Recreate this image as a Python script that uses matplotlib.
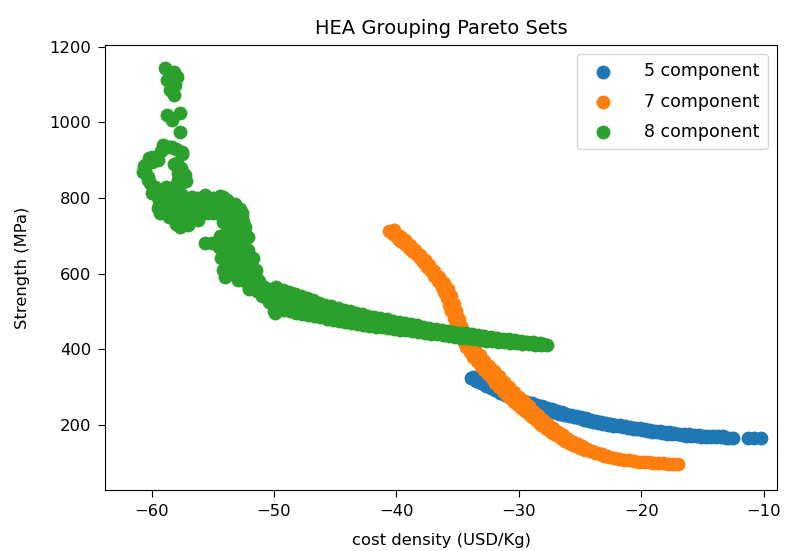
import matplotlib
matplotlib.use("Agg")
import matplotlib.pyplot as plt

# 5 component pareto set (cost density, strength)
cost_5 = [-33.9, -33.5, -33.1, -32.7, -32.3, -31.9, -31.5, -31.1, -30.7, -30.3,
          -29.9, -29.5, -29.1, -28.7, -28.3, -27.9, -27.5, -27.1, -26.7, -26.3,
          -25.9, -25.5, -25.1, -24.7, -24.3, -23.9, -23.5, -23.1, -22.7, -22.3,
          -21.9, -21.5, -21.1, -20.7, -20.3, -19.9, -19.5, -19.1, -18.7, -18.3,
          -17.9, -17.5, -17.1, -16.7, -16.3, -15.9, -15.5, -15.1, -14.7, -14.3,
          -13.9, -13.5, -13.1, -12.8, -12.5, -11.3, -10.8, -10.2,
          -33.7, -33.3, -32.9, -32.5, -32.1, -31.7, -31.3, -30.9, -30.5, -30.1,
          -29.7, -29.3, -28.9, -28.5, -28.1, -27.7, -27.3, -26.9, -26.5, -26.1,
          -25.7, -25.3, -24.9, -24.5, -24.1, -23.7, -23.3, -22.9, -22.5, -22.1,
          -21.7, -21.3, -20.9, -20.5, -20.1, -19.7, -19.3, -18.9, -18.5, -18.1,
          -17.7, -17.3, -16.9, -16.5, -16.1, -15.7, -15.3, -14.9, -14.5, -14.1,
          -13.7, -13.3]
strength_5 = [325, 317, 311, 304, 298, 291, 285, 278, 273, 267,
              262, 258, 254, 250, 246, 242, 238, 234, 230, 227,
              223, 220, 217, 214, 211, 208, 205, 202, 200, 198,
              196, 194, 192, 190, 188, 186, 184, 182, 180, 179,
              177, 176, 175, 173, 172, 171, 170, 169, 168, 168,
              167, 167, 166, 166, 166, 166, 166, 166,
              326, 319, 312, 306, 300, 294, 287, 281, 276, 270,
              265, 261, 257, 253, 249, 245, 241, 237, 233, 230,
              226, 223, 220, 217, 214, 211, 208, 205, 203, 201,
              199, 197, 195, 193, 191, 189, 187, 185, 183, 182,
              180, 179, 177, 176, 175, 174, 173, 172, 171, 171,
              170, 170]

# 7 component pareto set
cost_7 = [-40.6, -40.3, -40.0, -39.8, -39.5, -39.2, -39.0, -38.7, -38.4, -38.1,
          -37.8, -37.5, -37.2, -36.9, -36.6, -36.3, -36.1, -35.9, -35.7, -35.5,
          -35.3, -35.1, -34.9, -34.7, -34.5, -34.3, -34.0, -33.7, -33.4, -33.1,
          -32.8, -32.5, -32.2, -31.9, -31.6, -31.3, -31.0, -30.7, -30.4, -30.1,
          -29.8, -29.5, -29.2, -28.9, -28.6, -28.3, -28.0, -27.7, -27.4, -27.1,
          -26.8, -26.5, -26.2, -25.9, -25.6, -25.3, -25.0, -24.6, -24.2, -23.8,
          -23.4, -23.0, -22.6, -22.2, -21.8, -21.4, -21.0, -20.6, -20.2, -19.8,
          -19.4, -19.0, -18.6, -18.2, -17.8, -17.4, -17.0,
          -40.2, -39.7, -39.3, -38.9, -38.5, -38.1, -37.7, -37.3, -36.9, -36.5,
          -36.1, -35.8, -35.5, -35.3, -35.1, -34.9, -34.7, -34.5, -34.2, -33.9,
          -33.6, -33.2, -32.8, -32.4, -32.0, -31.6, -31.2, -30.8, -30.4, -30.0,
          -29.6, -29.2, -28.8, -28.4, -28.0, -27.6, -27.2, -26.8, -26.4, -26.0,
          -25.6, -25.2, -24.8, -24.4, -24.0, -23.6, -23.2, -22.8]
strength_7 = [712, 705, 698, 690, 684, 676, 668, 660, 651, 640,
              630, 618, 606, 593, 580, 565, 550, 535, 518, 500,
              483, 466, 450, 435, 420, 406, 393, 380, 368, 357,
              346, 335, 323, 312, 300, 290, 280, 270, 261, 252,
              244, 236, 228, 220, 212, 203, 196, 189, 182, 176,
              170, 164, 158, 153, 148, 143, 139, 134, 130, 126,
              122, 118, 115, 112, 110, 108, 106, 104, 103, 102,
              101, 100, 99, 99, 98, 98, 98,
              715, 700, 688, 675, 662, 650, 637, 622, 607, 592,
              576, 558, 540, 520, 500, 480, 462, 445, 428, 412,
              398, 384, 370, 356, 342, 328, 314, 300, 287, 274,
              262, 250, 238, 226, 214, 203, 192, 182, 173, 164,
              156, 149, 143, 137, 132, 127, 123, 119]

# 8 component pareto set
cost_8 = [-58.9, -58.2, -57.9, -58.7, -58.1, -58.5, -58.2, -58.7, -57.7, -58.3,
          -57.7, -59.1, -58.3, -57.5, -60.0, -60.5, -59.5, -60.7, -57.9, -57.4,
          -60.3, -59.7, -60.0, -59.3, -58.9, -57.8, -58.1, -57.5, -58.3, -57.3,
          -56.7, -55.6, -54.2, -53.7, -53.2, -52.6, -52.4, -52.1, -57.7, -57.0,
          -56.2, -55.4, -54.8, -59.5, -57.0, -55.6, -55.1, -52.9, -52.4, -52.1,
          -51.8, -53.4, -52.9, -51.8, -51.3, -50.1, -49.9, -49.1,
          # left arm and crescent
          -60.6, -60.5, -60.3, -60.1, -59.9, -59.7, -59.4, -59.1, -60.0, -59.6,
          -60.2, -59.2, -58.6, -58.0, -57.5, -58.2, -57.6, -57.3, -57.8, -57.6,
          -58.0, -57.2, -59.2, -58.8,
          # middle mass
          -58.6, -58.0, -57.4, -56.8, -56.2, -55.6, -55.0, -54.4, -53.8, -53.2,
          -52.8, -58.8, -58.2, -57.6, -57.0, -56.4, -55.8, -55.2, -54.6, -54.0,
          -53.4, -52.6, -59.3, -58.6, -57.9, -57.2, -56.6, -56.0, -55.0, -54.3,
          -53.6, -53.0, -52.5, -58.0, -57.3, -54.2, -53.6, -52.9, -52.4,
          # column going down
          -53.8, -53.2, -52.6, -53.8, -53.4, -52.8, -52.3, -53.6, -53.0, -52.5,
          -53.8, -53.2, -52.6, -52.1, -53.3, -52.8, -52.2, -51.7, -53.0, -52.4,
          -51.8, -51.2, -52.0, -51.4, -50.8, -50.2, -49.6, -49.0, -48.4, -51.0,
          -50.4, -49.7, -49.2, -48.6, -50.0, -48.0,
          -54.4, -54.5, -54.3, -54.2, -51.7, -51.5, -51.4, -54.6, -54.0,
          # long tail, middle
          -50.0, -49.5, -49.0, -48.5, -48.0, -47.5, -47.0, -46.5, -46.0, -45.5,
          -45.0, -44.5, -44.0, -43.5, -43.0, -42.5, -42.0, -41.5, -41.0, -40.5,
          -40.0, -39.5, -39.0, -38.5, -38.0, -37.5, -37.0, -36.5, -36.0, -35.5,
          -35.0, -34.5, -34.0, -33.5, -33.0, -32.5, -32.0, -31.5, -31.0, -30.5,
          -30.0, -29.5, -29.0, -28.5, -28.0, -27.7,
          # long tail, upper edge
          -49.8, -49.3, -48.8, -48.3, -47.8, -47.3, -46.8, -46.3, -45.8, -45.3,
          -44.8, -44.3, -43.8, -43.3, -42.8, -42.3, -41.8, -41.3, -40.8, -40.3,
          -39.8, -39.3, -38.8, -38.3, -37.8, -37.3, -36.8, -36.3, -35.8, -35.3,
          -34.8, -34.3, -33.8, -33.3, -32.8, -32.3, -31.8, -31.3, -30.8, -30.3,
          -29.8, -29.3, -28.8, -28.3,
          # long tail, lower edge
          -49.7, -49.2, -48.7, -48.2, -47.7, -47.2, -46.7, -46.2, -45.7, -45.2,
          -44.7, -44.2, -43.7, -43.2, -42.7, -42.2, -41.7, -41.2, -40.7, -40.2,
          -39.7, -39.2, -38.7, -38.2, -37.7, -37.2, -36.7, -36.2, -35.7, -35.2,
          -34.7, -34.2, -33.7, -33.2, -32.7, -32.2, -31.7, -31.2, -30.7, -30.2,
          -29.7, -29.2, -28.7, -28.2]
strength_8 = [1144, 1133, 1120, 1112, 1099, 1086, 1072, 1019, 1025, 1006,
              975, 940, 935, 922, 908, 887, 900, 869, 893, 866,
              848, 829, 813, 787, 763, 848, 821, 808, 787, 776,
              803, 808, 803, 787, 768, 750, 723, 697, 723, 729,
              742, 760, 768, 774, 734, 681, 681, 742, 708, 663,
              636, 602, 583, 575, 557, 530, 496, 538,
              885, 870, 855, 840, 825, 810, 795, 780, 895, 905,
              905, 925, 935, 930, 915, 890, 880, 860, 865, 840,
              835, 845, 805, 830,
              820, 810, 800, 795, 800, 795, 800, 805, 795, 785,
              770, 790, 775, 770, 765, 770, 775, 780, 785, 780,
              770, 760, 760, 750, 745, 750, 745, 755, 760, 755,
              750, 740, 735, 730, 735, 735, 725, 715, 705,
              710, 700, 690, 690, 675, 665, 660, 655, 645, 640,
              635, 625, 615, 620, 605, 600, 595, 600, 590, 580,
              570, 580, 560, 555, 565, 560, 555, 550, 545, 540,
              525, 520, 510, 510, 500, 505,
              700, 670, 640, 610, 640, 610, 585, 770, 590,
              545, 536, 530, 525, 521, 517, 512, 507, 503, 499,
              495, 492, 488, 485, 482, 479, 476, 473, 470, 467,
              464, 462, 459, 456, 453, 451, 448, 446, 443, 441,
              438, 436, 434, 432, 430, 428, 426, 424, 422, 421,
              419, 418, 416, 415, 413, 412,
              565, 556, 550, 545, 540, 535, 529, 523, 518, 513,
              509, 505, 501, 497, 493, 489, 485, 482, 479, 475,
              472, 469, 466, 463, 460, 457, 454, 451, 449, 446,
              444, 442, 439, 437, 434, 432, 430, 428, 426, 424,
              422, 420, 418, 416,
              515, 505, 500, 497, 494, 491, 487, 484, 480, 477,
              474, 471, 469, 466, 464, 462, 460, 458, 456, 454,
              452, 450, 448, 445, 443, 441, 439, 437, 435, 433,
              431, 429, 427, 425, 423, 422, 420, 419, 417, 416,
              414, 413, 412, 411]

plt.rcParams['font.size'] = 11.8
plt.rcParams['xtick.major.size'] = 5
plt.rcParams['ytick.major.size'] = 5
plt.rcParams['xtick.major.pad'] = 5
plt.rcParams['ytick.major.pad'] = 5

fig = plt.figure(figsize=(7.95, 5.51), dpi=100)
ax = fig.add_axes([0.1321, 0.1107, 0.8453, 0.8076])

ax.scatter(cost_5, strength_5, s=80, color='#1f77b4', label='5 component')
ax.scatter(cost_7, strength_7, s=80, color='#ff7f0e', label='7 component')
ax.scatter(cost_8, strength_8, s=80, color='#2ca02c', label='8 component')

ax.set_xlim(-63.8, -8.9)
ax.set_ylim(28, 1204)
ax.set_title('HEA Grouping Pareto Sets', fontsize=14, pad=8)
ax.set_xlabel('cost density (USD/Kg)', labelpad=10)
ax.set_ylabel('Strength (MPa)', labelpad=14)
ax.legend(loc='upper right', fontsize=12.5, labelspacing=0.7,
          handletextpad=1.4, borderpad=0.5)

fig.savefig('out.png', dpi=100)
